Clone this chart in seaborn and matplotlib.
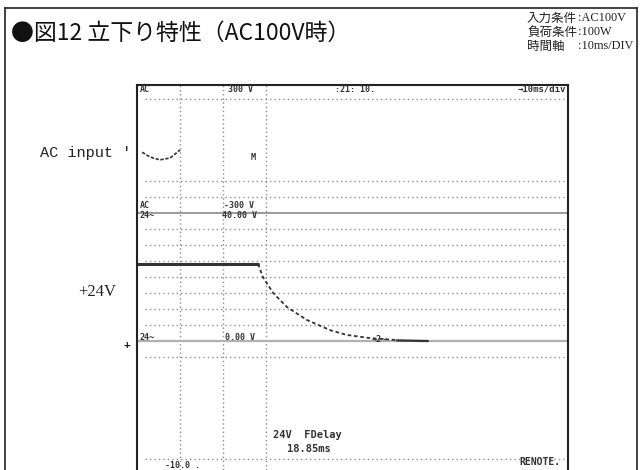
import numpy as np
import matplotlib
matplotlib.use('Agg')
import matplotlib.pyplot as plt
import seaborn as sns

t_24v = [0.0, 28.1]
v_24v = [24.1, 24.1]
t_caida = [28.1, 29.2, 31.6, 34.8, 39.4, 44.8, 48.7, 54.1, 60.3]
v_caida = [24.1, 20.0, 15.0, 10.6, 6.6, 3.4, 1.9, 0.9, 0.3]
t_cola = [60.3, 67.5]
v_cola = [0.2, 0.0]

# traza de AC input (misma escala vertical del grafico)
t_ac = [1.2, 3.0, 5.3, 7.7, 10.0]
v_ac = [59.0, 57.5, 56.6, 57.2, 59.7]

# reticula
filas_punteadas = [75.6, 50, 45, 35, 30, 25, 20, 15, 10, 5, -5, -37]
columnas_punteadas = [10, 20, 30]
lineas_canal = [40, 0]

W, H = 642, 470


def px(x, y):
    # pixeles de la imagen -> fraccion de figura
    return x / W, 1 - y / H


sns.set_style('white')
plt.rcParams['font.family'] = ['Noto Sans CJK JP', 'DejaVu Sans']

fig = plt.figure(figsize=(W / 100, H / 100), dpi=100)

# marco exterior
marco = fig.add_axes([5 / W, 0, 632 / W, 462 / H])
marco.set_xticks([])
marco.set_yticks([])
marco.patch.set_alpha(0)
for lado in ['left', 'top', 'right']:
    marco.spines[lado].set_color('#222222')
    marco.spines[lado].set_linewidth(1.2)
marco.spines['bottom'].set_visible(False)

# pantalla del osciloscopio
ax = fig.add_axes([137 / W, 0, 431 / W, 385 / H])
ax.set_xlim(0, 100)
ax.set_ylim(-40.3, 80)
ax.set_xticks([])
ax.set_yticks([])
for lado in ['left', 'top', 'right']:
    ax.spines[lado].set_color('#222222')
    ax.spines[lado].set_linewidth(1.5)
ax.spines['bottom'].set_visible(False)

for v in filas_punteadas:
    ax.plot([1.8, 99], [v, v], color='#8c8c8c', lw=1.0, ls=(0, (1, 2.2)))
for t in columnas_punteadas:
    ax.axvline(t, color='#8c8c8c', lw=1.0, ls=(0, (1, 2)))
ax.axhline(lineas_canal[0], color='#8a8a8a', lw=1.2)
ax.axhline(lineas_canal[1], color='#b0b0b0', lw=1.6)

sns.lineplot(x=t_24v, y=v_24v, ax=ax, color='#333333', lw=2.2)
sns.lineplot(x=t_caida, y=v_caida, ax=ax, color='#333333', lw=1.3,
             linestyle=(0, (2, 1.5)))
sns.lineplot(x=t_cola, y=v_cola, ax=ax, color='#333333', lw=1.6)
sns.lineplot(x=t_ac, y=v_ac, ax=ax, color='#333333', lw=1.2,
             linestyle=(0, (2, 1)))

# textos de la pantalla
mono = 'DejaVu Sans Mono'
txt_scope = [
    (140, 89, 'AC', 6), (228, 89, '300 V', 6), (335, 89, ':21: 10.', 6),
    (518, 89, '→10ms/div', 6.5), (140, 205, 'AC', 6), (224, 205, '-300 V', 6),
    (140, 216, '24~', 6), (222, 216, '40.00 V', 6), (140, 338, '24~', 6),
    (225, 338, '0.00 V', 6), (372, 339, '→2~', 6), (251, 157, 'M', 6),
    (273, 435, '24V  FDelay', 7.5), (287, 449, '18.85ms', 7.5),
    (165, 465, '-10.0 .', 6), (519, 462, 'RENOTE.', 7),
]
for x, y, s, fs in txt_scope:
    fig.text(*px(x, y), s, family=mono, fontsize=fs, fontweight='bold',
             color='#333333', va='center', ha='left')

# etiquetas a la izquierda
fig.text(*px(40, 153), "AC input '", family='Liberation Mono', fontsize=11,
         color='#222222', va='center', ha='left')
fig.text(*px(78, 292), '+24V', family='Liberation Serif', fontsize=12,
         color='#222222', va='center', ha='left')
fig.text(*px(124, 345), '+', family=mono, fontsize=8, fontweight='bold',
         color='#222222', va='center', ha='left')

# titulo
fig.text(*px(11, 33), '●図12 立下り特性（AC100V時）', fontsize=16.5,
         color='#111111', va='center', ha='left')

# condiciones
cond_izq = ['入力条件', '負荷条件', '時間軸']
cond_der = [':AC100V', ':100W', ':10ms/DIV']
for i, (a, b) in enumerate(zip(cond_izq, cond_der)):
    y = 18 + 14 * i
    fig.text(*px(527, y), a, fontsize=9, color='#222222', va='center', ha='left')
    fig.text(*px(578, y), b, family=['Liberation Serif', 'Noto Sans CJK JP'],
             fontsize=8.8, color='#222222', va='center', ha='left')

fig.savefig('out.png', dpi=100)
